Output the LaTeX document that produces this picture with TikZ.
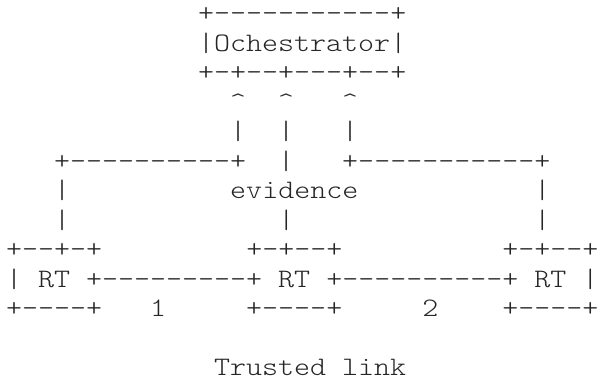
\documentclass[tikz,border=0pt]{standalone}
\usepackage{fontspec}
\setmonofont[FakeStretch=1.143]{Latin Modern Mono Light}
\usepackage{tikz}

\begin{document}
\begin{tikzpicture}[x=16bp, y={(0bp,-29.5bp)},
    ascii/.style={anchor=base west, inner sep=0pt, xshift=-8bp, yshift=-7bp,
        font=\ttfamily\fontsize{26.67bp}{29.5bp}\selectfont, text=black!85}]
    \useasboundingbox (-0.875,-0.508) rectangle (36.4375,12.407);
    % caja del orquestador
    \node[ascii] (orchtop) at (12,0) {+-----------+};
    \node[ascii] (orch) at (12,1) {|Ochestrator|};
    \node[ascii] (orchbot) at (12,2) {+-+--+---+--+};
    % flechas de evidencia
    \node[ascii] (tips) at (14,3) {\textasciicircum~~\textasciicircum~~~\textasciicircum};
    \node[ascii] (up) at (14,4) {|~~|~~~|};
    \node[ascii] (branch) at (3,5) {+----------+~~|~~~+-----------+};
    \node[ascii] (evidence) at (3,6) {|~~~~~~~~~~evidence~~~~~~~~~~~|};
    \node[ascii] (down) at (3,7) {|~~~~~~~~~~~~~|~~~~~~~~~~~~~~~|};
    % los tres RT
    \node[ascii] (rttop) at (0,8) {+--+-+~~~~~~~~~+-+--+~~~~~~~~~~+-+--+};
    \node[ascii] (rt) at (0,9) {|~RT~+---------+~RT~+----------+~RT~|};
    \node[ascii] (rtbot) at (0,10) {+----+~~~1~~~~~+----+~~~~~2~~~~+----+};
    \node[ascii] (link) at (13,12) {Trusted link};
\end{tikzpicture}
\end{document}
